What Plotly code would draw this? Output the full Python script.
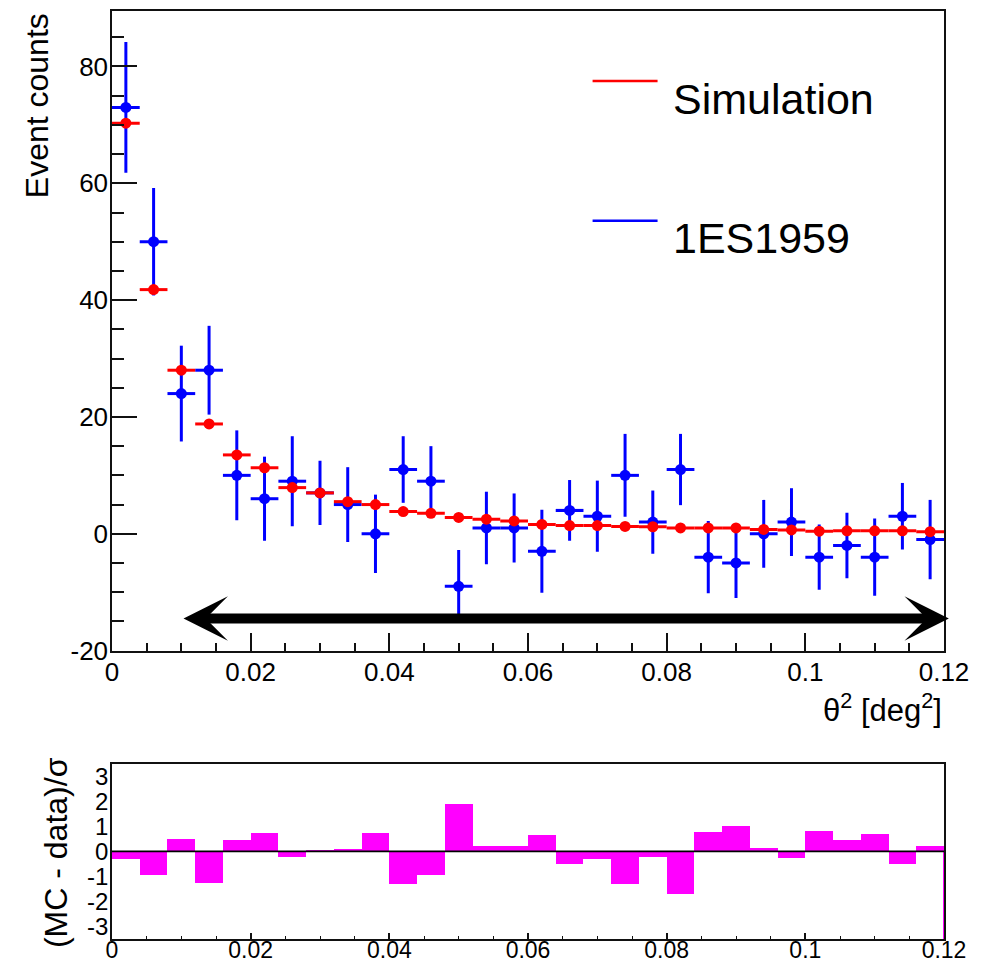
import plotly.graph_objects as go

# ---------------- data ----------------
# theta^2 bin centres (deg^2), bin width 0.004
theta2 = [0.002, 0.006, 0.010, 0.014, 0.018, 0.022, 0.026, 0.030, 0.034, 0.038,
          0.042, 0.046, 0.050, 0.054, 0.058, 0.062, 0.066, 0.070, 0.074, 0.078,
          0.082, 0.086, 0.090, 0.094, 0.098, 0.102, 0.106, 0.110, 0.114, 0.118]
half_bin = [0.002] * len(theta2)

# Monte Carlo expectation
sim_counts = [70.3, 41.8, 28.0, 18.8, 13.5, 11.3, 7.9, 7.0, 5.5, 5.0,
              3.8, 3.5, 2.8, 2.5, 2.2, 1.6, 1.4, 1.4, 1.25, 1.2,
              1.0, 1.0, 1.0, 0.75, 0.65, 0.45, 0.5, 0.5, 0.5, 0.35]

# 1ES1959 excess counts and their errors
data_counts = [73, 50, 24, 28, 10, 6, 9, 7, 5, 0,
               11, 9, -9, 1, 1, -3, 4, 3, 10, 2,
               11, -4, -5, 0, 2, -4, -2, -4, 3, -1]
data_err = [11.2, 9.2, 8.2, 7.6, 7.7, 7.2, 7.7, 5.5, 6.4, 6.7,
            5.7, 6.0, 6.2, 6.2, 5.9, 7.1, 5.2, 6.1, 7.1, 5.4,
            6.1, 6.2, 6.0, 5.8, 5.8, 5.6, 5.6, 6.6, 5.7, 6.8]

# normalised residuals (MC - data)/sigma
residuals = [-0.29, -0.94, 0.50, -1.24, 0.47, 0.74, -0.20, 0.03, 0.09, 0.74,
             -1.30, -0.94, 1.91, 0.24, 0.21, 0.66, -0.51, -0.31, -1.29, -0.20,
             -1.70, 0.79, 1.03, 0.13, -0.27, 0.83, 0.47, 0.71, -0.48, 0.21]
bin_width = 0.004
# overflow bin edge, residual clipped at the frame bottom
overflow_x = [0.12, 0.12]
overflow_y = [0.0, -3.5]

# selection cut shown as a double arrow
cut_span = [0.0101, 0.1207]
cut_level = -14.5

# axis ticks
y_top_ticks = [-20, 0, 20, 40, 60, 80]
y_top_labels = ["-20", "0", "20", "40", "60", "80"]
y_bot_ticks = [-3, -2, -1, 0, 1, 2, 3]
y_bot_labels = ["-3", "-2", "-1", "0", "1", "2", "3"]

# ---------------- layout helpers ----------------
W, H = 988, 965
ML, MR, MT, MB = 112.3, 43.5, 10.7, 25.7
PH = H - MT - MB
PW = W - ML - MR


def py(ypix):
    return 1 - (ypix - MT) / PH


def px(xpix):
    return (xpix - ML) / PW


FONT = "Liberation Sans, Arial, Helvetica, sans-serif"
BLUE = "#0000ff"
RED = "#ff0000"
MAG = "#ff00ff"

fig = go.Figure()

# data points
fig.add_trace(go.Scatter(
    x=theta2, y=data_counts, mode="markers", xaxis="x", yaxis="y",
    marker=dict(color=BLUE, size=11),
    error_x=dict(type="data", array=half_bin, color=BLUE, thickness=3, width=0),
    error_y=dict(type="data", array=data_err, color=BLUE, thickness=3, width=0),
    showlegend=False,
))
# simulation
fig.add_trace(go.Scatter(
    x=theta2, y=sim_counts, mode="markers", xaxis="x", yaxis="y",
    marker=dict(color=RED, size=11),
    error_x=dict(type="data", array=half_bin, color=RED, thickness=3, width=0),
    showlegend=False,
))

# residual histogram
fig.add_trace(go.Bar(
    x=theta2, y=residuals, width=bin_width, xaxis="x2", yaxis="y2",
    marker=dict(color=MAG, line=dict(width=0)), showlegend=False,
))
fig.add_trace(go.Scatter(
    x=overflow_x, y=overflow_y, mode="lines", xaxis="x2", yaxis="y2",
    line=dict(color=MAG, width=2), showlegend=False, cliponaxis=False,
))

axis_common = dict(
    showline=True, mirror=True, linecolor="#111", linewidth=1.5,
    showgrid=False, zeroline=False, ticks="inside", tickcolor="#111",
    tickwidth=1.5, automargin=False,
)

fig.update_layout(
    width=W, height=H,
    margin=dict(l=ML, r=MR, t=MT, b=MB, pad=0, autoexpand=False),
    paper_bgcolor="white", plot_bgcolor="white",
    font=dict(family=FONT, color="black"),
    bargap=0,
    xaxis=dict(
        domain=[0, 1], anchor="y", range=[0, 0.12], tick0=0, dtick=0.02,
        ticklen=18, tickfont=dict(size=26), ticklabelstandoff=-3,
        minor=dict(dtick=0.005, tick0=0, ticks="inside", ticklen=8,
                   tickwidth=1.5, tickcolor="#111"),
        **axis_common,
    ),
    yaxis=dict(
        domain=[py(650.7), 1], anchor="x", range=[-20, 89.5],
        tickmode="array", tickvals=y_top_ticks, ticktext=y_top_labels,
        ticklen=25, tickfont=dict(size=26), ticklabelstandoff=-3,
        minor=dict(dtick=5, tick0=0, ticks="inside", ticklen=12,
                   tickwidth=1.5, tickcolor="#111"),
        **axis_common,
    ),
    xaxis2=dict(
        domain=[0, 1], anchor="y2", range=[0, 0.12], tick0=0, dtick=0.02,
        ticklen=6, tickfont=dict(size=23), ticklabelstandoff=-10,
        minor=dict(dtick=0.005, tick0=0, ticks="inside", ticklen=3,
                   tickwidth=1, tickcolor="#111"),
        **axis_common,
    ),
    yaxis2=dict(
        domain=[0, py(764)], anchor="x2", range=[-3.5, 3.5],
        tickmode="array", tickvals=y_bot_ticks, ticktext=y_bot_labels,
        ticklen=0, tickfont=dict(size=24), ticklabelstandoff=-3,
        **axis_common,
    ),
)

# zero reference line of the residual panel
fig.add_shape(type="line", xref="x2 domain", yref="y2", x0=0, x1=1, y0=0, y1=0,
              line=dict(color="black", width=1.8), layer="above")

# cut arrow
fig.add_annotation(
    x=cut_span[1], y=cut_level, ax=cut_span[0], ay=cut_level,
    xref="x", yref="y", axref="x", ayref="y", text="",
    showarrow=True, arrowside="end+start", arrowhead=3, startarrowhead=3,
    arrowwidth=10, arrowsize=0.74, startarrowsize=0.74, arrowcolor="black",
    standoff=0, startstandoff=0,
)

# legend
legend_items = [("Simulation", RED, 80.7, 99), ("1ES1959", BLUE, 220.7, 238)]
for label, col, yline, ytext in legend_items:
    fig.add_shape(type="line", xref="paper", yref="paper",
                  x0=px(593), x1=px(658), y0=py(yline), y1=py(yline),
                  line=dict(color=col, width=2.5))
    fig.add_annotation(xref="paper", yref="paper", x=px(671), y=py(ytext),
                       xanchor="left", yanchor="middle", text=label,
                       showarrow=False, font=dict(size=43, color="black"))

# axis titles
fig.add_annotation(xref="paper", yref="paper", x=px(37), y=py(10.7),
                   xanchor="center", yanchor="top", textangle=-90,
                   text="Event counts", showarrow=False, font=dict(size=32))
fig.add_annotation(xref="paper", yref="paper", x=1, y=py(708),
                   xanchor="right", yanchor="middle",
                   text="θ<sup>2</sup> [deg<sup>2</sup>]", showarrow=False,
                   font=dict(size=31))
fig.add_annotation(xref="paper", yref="paper", x=px(57), y=py(755),
                   xanchor="center", yanchor="top", textangle=-90,
                   text="(MC - data)/σ", showarrow=False, font=dict(size=32))

fig.write_html("out.html")
